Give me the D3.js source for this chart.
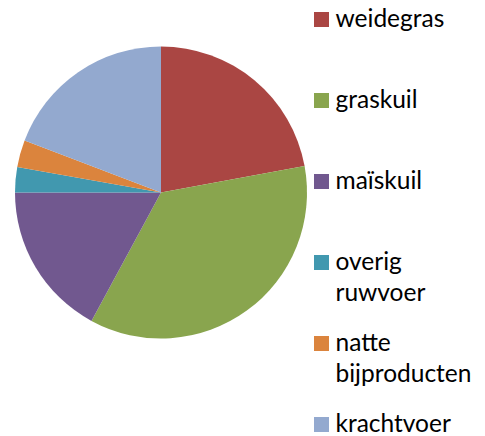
<!DOCTYPE html>
<html>
<head>
<meta charset="utf-8">
<script src="https://cdn.jsdelivr.net/npm/d3@7"></script>
<style>
body { margin: 0; background: #fff; }
svg { display: block; }
</style>
</head>
<body>
<svg id="chart"></svg>
<script>
var width = 485;
var height = 436;

// data
var categories = ["weidegras", "graskuil", "maïskuil", "overig ruwvoer", "natte bijproducten", "krachtvoer"];
var legendLines = [["weidegras"], ["graskuil"], ["maïskuil"], ["overig", "ruwvoer"], ["natte", "bijproducten"], ["krachtvoer"]];
var values = [22.1, 35.8, 17.1, 2.8, 3.0, 19.2];
var colors = ["#AA4643", "#89A54E", "#71588F", "#4198AF", "#DB843D", "#93A9CF"];

var cx = 161, cy = 192.5, radius = 146;

var svg = d3.select("#chart")
	.attr("width", width)
	.attr("height", height);

var pie = d3.pie().sort(null).value(function(d){ return d; });
var arc = d3.arc().innerRadius(0).outerRadius(radius);

var color = d3.scaleOrdinal().domain(categories).range(colors);

svg.append("g")
	.attr("transform", "translate(" + cx + "," + cy + ")")
	.selectAll("path")
	.data(pie(values))
	.join("path")
	.attr("d", arc)
	.attr("fill", function(d, i){ return color(categories[i]); });

// legend
var legendY = d3.scalePoint().domain(categories).range([27.3, 432.3]);
var lineGap = 31;

var legend = svg.append("g");
var item = legend.selectAll("g")
	.data(categories)
	.join("g")
	.attr("transform", function(d){ return "translate(314," + legendY(d) + ")"; });

item.append("rect")
	.attr("x", 0)
	.attr("y", -15.3)
	.attr("width", 15)
	.attr("height", 15)
	.attr("fill", function(d){ return color(d); });

item.append("text")
	.attr("font-family", "Lato, 'Open Sans', sans-serif")
	.attr("font-size", "24.5px")
	.attr("fill", "#000")
	.selectAll("tspan")
	.data(function(d, i){ return legendLines[i]; })
	.join("tspan")
	.attr("x", 21.5)
	.attr("y", function(d, j){ return j * lineGap; })
	.text(function(d){ return d; });
</script>
</body>
</html>
